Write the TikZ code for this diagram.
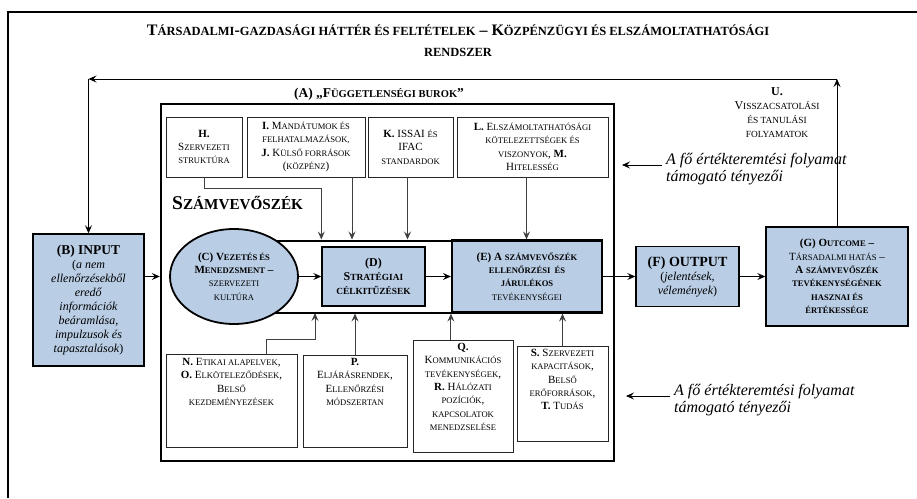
\documentclass[tikz,border=0pt]{standalone}
\usepackage{fontspec}
\setmainfont{Liberation Serif}
\usetikzlibrary{arrows.meta,positioning,shapes.geometric,calc}
\definecolor{boxblue}{RGB}{185,205,229}
\makeatletter
\newcommand\sk[1]{{\fontsize{\fpeval{0.78*\f@size}}{\f@baselineskip}\selectfont #1}}
\makeatother

\begin{document}
\begin{tikzpicture}[x=1pt,y=-1pt,
	txt/.style={align=center, inner sep=0pt, font=\fontsize{11}{13.4}\selectfont},
	wbox/.style={txt, draw=black!85, line width=0.8pt, fill=white},
	bbox/.style={txt, draw=black, line width=1.4pt, fill=boxblue},
	arr/.style={-{Stealth[length=8pt,width=7pt,inset=3pt]}, line width=0.9pt},
	garr/.style={arr, draw=black!75}]
		\useasboundingbox (0,0) rectangle (917,498);
		\draw[line width=1.2pt] (8,498) -- (8,12) -- (917,12);

		\node[txt, font=\fontsize{16}{21}\selectfont\bfseries] (title) at (458,41) {T\sk{ÁRSADALMI}-\sk{GAZDASÁGI HÁTTÉR ÉS FELTÉTELEK} – K\sk{ÖZPÉNZÜGYI ÉS ELSZÁMOLTATHATÓSÁGI}\\\sk{RENDSZER}};

		\node[draw, line width=2.4pt, minimum width=453pt, minimum height=357pt, inner sep=0pt] (aframe) at (387.5,282.5) {};
		\node[txt, font=\fontsize{13.5}{15}\selectfont\bfseries] (alabel) at (379,94) {(A) „F\sk{ÜGGETLENSÉGI BUROK}”};

		\node[wbox, minimum width=76pt, minimum height=60pt] (hbox) at (204,147) {\textbf{H.}\\S\sk{ZERVEZETI}\\\sk{STRUKTÚRA}};
		\node[wbox, minimum width=118pt, minimum height=60pt] (ibox) at (306,147) {\textbf{I.} M\sk{ANDÁTUMOK ÉS}\\\sk{FELHATALMAZÁSOK,}\\\textbf{J.} K\sk{ÜLSŐ FORRÁSOK}\\(\sk{KÖZPÉNZ})};
		\node[wbox, minimum width=85pt, minimum height=60pt] (kbox) at (410.5,147) {\textbf{K.} ISSAI \sk{ÉS}\\IFAC\\\sk{STANDARDOK}};
		\node[wbox, minimum width=151pt, minimum height=60pt] (lbox) at (532.5,147) {\textbf{L.} E\sk{LSZÁMOLTATHATÓSÁGI}\\\sk{KÖTELEZETTSÉGEK ÉS}\\\sk{VISZONYOK}, \textbf{M.}\\H\sk{ITELESSÉG}};

		\node[txt, anchor=west, font=\fontsize{19.5}{22}\selectfont\bfseries] (szsz) at (172,203) {S\sk{ZÁMVEVŐSZÉK}};

		\node[draw, line width=2pt, minimum width=352pt, minimum height=72pt, inner sep=0pt] (core) at (426,276.5) {};
		\node[bbox, line width=2.2pt, minimum width=150pt, minimum height=72pt] (ebox) at (527,276.5) {\textbf{(E) A \sk{SZÁMVEVŐSZÉK}}\\\textbf{\sk{ELLENŐRZÉSI \ ÉS}}\\\textbf{\sk{JÁRULÉKOS}}\\\sk{TEVÉKENYSÉGEI}};
		\node[ellipse, bbox, line width=1.8pt, minimum width=128pt, minimum height=95pt] (cell) at (234,276.5) {\textbf{(C) V\sk{EZETÉS ÉS}}\\\textbf{M\sk{ENEDZSMENT} –}\\\sk{SZERVEZETI}\\\sk{KULTÚRA}};
		\node[bbox, minimum width=103pt, minimum height=59pt, font=\fontsize{12}{14}\selectfont] (dbox) at (373.5,276.5) {\textbf{(D)}\\\textbf{S\sk{TRATÉGIAI}}\\\textbf{\sk{CÉLKITŰZÉSEK}}};

		\node[bbox, minimum width=111pt, minimum height=132pt, font=\fontsize{12}{14}\selectfont] (bbox) at (88.5,300) {{\fontsize{13.5}{15}\selectfont\textbf{(B) INPUT}}\\(\textit{a nem}\\\textit{ellenőrzésekből}\\\textit{eredő}\\\textit{információk}\\\textit{beáramlása,}\\\textit{impulzusok és}\\\textit{tapasztalások})};
		\node[bbox, minimum width=103pt, minimum height=60pt, font=\fontsize{12}{14}\selectfont] (fbox) at (687.5,276.5) {{\fontsize{14}{15}\selectfont\textbf{(F) OUTPUT}}\\(\textit{jelentések,}\\\textit{vélemények})};
		\node[bbox, minimum width=142pt, minimum height=99pt] (gbox) at (837,276.5) {\textbf{(G) O\sk{UTCOME} –}\\T\sk{ÁRSADALMI HATÁS} –\\\textbf{A \sk{SZÁMVEVŐSZÉK}}\\\textbf{\sk{TEVÉKENYSÉGÉNEK}}\\\textbf{\sk{HASZNAI ÉS}}\\\textbf{\sk{ÉRTÉKESSÉGE}}};

		\node[wbox] (nbox) at (231.5,400.5) {\parbox[c][93pt][t]{131pt}{\centering\vspace*{4pt}\textbf{N.} E\sk{TIKAI ALAPELVEK},\\\textbf{O.} E\sk{LKÖTELEZŐDÉSEK},\\B\sk{ELSŐ}\\\sk{KEZDEMÉNYEZÉSEK}}};
		\node[wbox] (pbox) at (355,401) {\parbox[c][92pt][t]{104pt}{\centering\vspace*{3pt}\textbf{P.}\\E\sk{LJÁRÁSRENDEK},\\E\sk{LLENŐRZÉSI}\\\sk{MÓDSZERTAN}}};
		\node[wbox] (qbox) at (463,396) {\parbox[c][112pt][t]{100pt}{\centering\vspace*{3pt}\textbf{Q.}\\K\sk{OMMUNIKÁCIÓS}\\\sk{TEVÉKENYSÉGEK},\\\textbf{R.} H\sk{ÁLÓZATI}\\\sk{POZÍCIÓK},\\\sk{KAPCSOLATOK}\\\sk{MENEDZSELÉSE}}};
		\node[wbox] (sbox) at (562.5,393.5) {\parbox[c][95pt][t]{91pt}{\centering\vspace*{3pt}\textbf{S.} S\sk{ZERVEZETI}\\\sk{KAPACITÁSOK},\\B\sk{ELSŐ}\\\sk{ERŐFORRÁSOK},\\\textbf{T.} T\sk{UDÁS}}};

		\node[txt, font=\fontsize{12}{14}\selectfont] (utext) at (777,113) {\textbf{U.}\\V\sk{ISSZACSATOLÁSI}\\\sk{ÉS TANULÁSI}\\\sk{FOLYAMATOK}};
		\node[txt, anchor=north west, align=left, inner sep=4pt, font=\fontsize{16}{17}\selectfont\itshape] (note1) at (662,149) {A fő értékteremtési folyamat\\támogató tényezői};
		\node[txt, anchor=north west, align=left, inner sep=4pt, font=\fontsize{16}{17}\selectfont\itshape] (note2) at (670,380) {A fő értékteremtési folyamat\\támogató tényezői};

		\coordinate (fbtop) at (0,79);
		\coordinate (n1end) at (622,165);
		\coordinate (n2end) at (626,396);
		\coordinate (ia) at ($(ibox.south)+(46,0)$);
		\coordinate (ka) at ($(kbox.south)+(-3,0)$);
		\coordinate (la) at ($(lbox.south)+(-6,0)$);
		\coordinate (na) at ($(nbox.north)+(34.5,0)$);
		\coordinate (nb) at (315,313);

		\draw[arr] (gbox.north) -- (gbox.north |- fbtop);
		\draw[arr] (gbox.north |- fbtop) -- (bbox.north |- fbtop);
		\draw[arr] (bbox.north |- fbtop) -- (bbox.north);

		\draw[arr] (bbox.east |- core.center) -- (aframe.west |- core.center);
		\draw[arr] (cell.east) -- (dbox.west);
		\draw[arr] (dbox.east) -- (ebox.west);
		\draw[arr] (ebox.east) -- (fbox.west);
		\draw[arr] (fbox.east) -- (gbox.west);

		\draw[garr] (hbox.south) -- ++(0,11) -| (dbox.west |- core.north);
		\draw[garr] (ia) -- (ia |- core.north);
		\draw[garr] (ka) -- (ka |- core.north);
		\draw[garr] (la) -- (la |- ebox.north);
		\draw[garr] (na) -- ++(0,-14) -| (nb);
		\draw[garr] (pbox.north) -- (pbox.north |- core.south);
		\draw[garr] (qbox.north -| ebox.west) -- (ebox.south west);
		\draw[garr] (sbox.north) -- (sbox.north |- ebox.south);

		\draw[arr] (note1.west |- n1end) -- (n1end);
		\draw[arr] (note2.west |- n2end) -- (n2end);
	\end{tikzpicture}
\end{document}
